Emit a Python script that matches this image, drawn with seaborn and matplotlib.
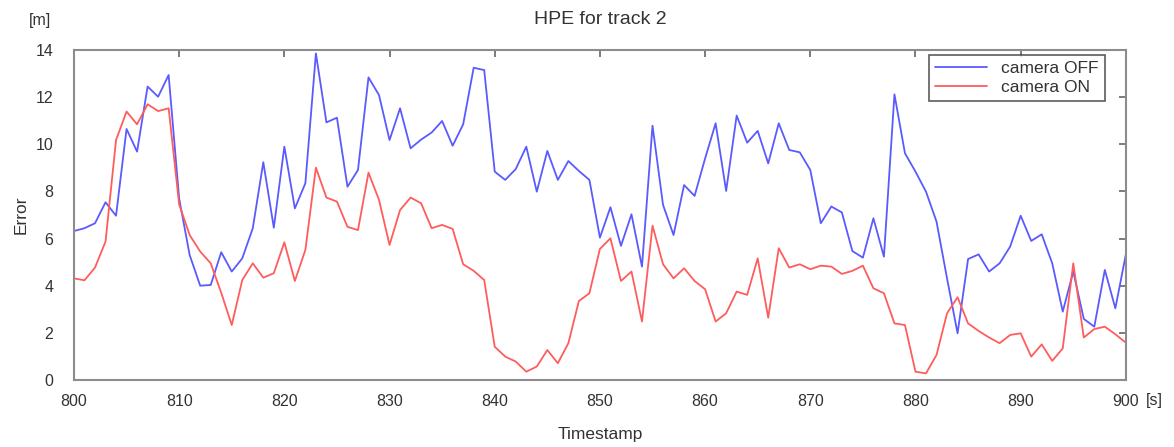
import numpy as np
import pandas as pd
import matplotlib
matplotlib.use("Agg")
import matplotlib.pyplot as plt
import seaborn as sns

# Horizontal position error per second, track 2
timestamps = list(range(800, 901))

camera_off = [
    6.32, 6.44, 6.65, 7.54, 6.97, 10.65, 9.69, 12.45, 12.02, 12.94,
    7.70, 5.30, 4.00, 4.03, 5.42, 4.60, 5.16, 6.44, 9.24, 6.46,
    9.90, 7.28, 8.35, 13.86, 10.93, 11.13, 8.20, 8.91, 12.84, 12.09,
    10.18, 11.53, 9.83, 10.20, 10.50, 10.99, 9.94, 10.85, 13.25, 13.15,
    8.84, 8.49, 8.95, 9.90, 7.99, 9.72, 8.49, 9.29, 8.87, 8.49,
    6.04, 7.33, 5.69, 7.03, 4.81, 10.79, 7.43, 6.15, 8.27, 7.81,
    9.40, 10.89, 8.02, 11.22, 10.07, 10.57, 9.19, 10.89, 9.76, 9.66,
    8.91, 6.65, 7.36, 7.11, 5.47, 5.19, 6.86, 5.23, 12.12, 9.62,
    8.84, 7.99, 6.72, 4.31, 1.98, 5.13, 5.33, 4.60, 4.95, 5.66,
    6.97, 5.90, 6.18, 4.95, 2.90, 4.60, 2.59, 2.26, 4.67, 3.04,
    5.33,
]

camera_on = [
    4.31, 4.23, 4.77, 5.87, 10.18, 11.39, 10.85, 11.70, 11.41, 11.53,
    7.45, 6.15, 5.45, 4.95, 3.70, 2.33, 4.24, 4.95, 4.34, 4.53,
    5.84, 4.20, 5.52, 9.01, 7.74, 7.57, 6.50, 6.36, 8.80, 7.64,
    5.73, 7.21, 7.74, 7.50, 6.44, 6.58, 6.41, 4.91, 4.63, 4.24,
    1.41, 0.99, 0.78, 0.35, 0.57, 1.27, 0.71, 1.56, 3.35, 3.68,
    5.56, 6.01, 4.20, 4.60, 2.48, 6.55, 4.91, 4.31, 4.74, 4.20,
    3.85, 2.48, 2.83, 3.75, 3.61, 5.16, 2.64, 5.59, 4.77, 4.91,
    4.70, 4.85, 4.81, 4.50, 4.63, 4.85, 3.89, 3.68, 2.40, 2.33,
    0.35, 0.28, 1.06, 2.83, 3.51, 2.40, 2.08, 1.80, 1.56, 1.91,
    1.98, 0.99, 1.51, 0.81, 1.34, 4.95, 1.80, 2.16, 2.26, 1.94,
    1.58,
]

series_names = ["camera OFF", "camera ON"]
series_colors = ["#5a5aff", "#ff5c5c"]

x_ticks = list(range(800, 901, 10))
y_ticks = list(range(0, 15, 2))

df = pd.DataFrame({
    "Timestamp": timestamps * 2,
    "Error": camera_off + camera_on,
    "mode": [series_names[0]] * len(timestamps) + [series_names[1]] * len(timestamps),
})

sns.set_style("white")
plt.rcParams["font.family"] = ["Liberation Sans", "DejaVu Sans"]

text_color = "#333333"
frame_color = "#8c8c8c"

fig = plt.figure(figsize=(11.74, 4.47), dpi=100)
ax = fig.add_axes([0.063, 0.150, 0.896, 0.738])

sns.lineplot(
    data=df, x="Timestamp", y="Error", hue="mode",
    palette=dict(zip(series_names, series_colors)),
    linewidth=1.3, ax=ax, legend=False,
)

ax.set_xlim(800, 900)
ax.set_ylim(0, 14)
ax.set_xticks(x_ticks)
ax.set_yticks(y_ticks)
ax.set_xticklabels([str(t) for t in x_ticks])
ax.set_yticklabels([str(t) for t in y_ticks])

for side in ax.spines.values():
    side.set_color(frame_color)
    side.set_linewidth(1.5)

ax.tick_params(axis="both", direction="in", length=5, width=1.2,
               color="#666666", labelsize=11.5, labelcolor=text_color,
               top=True, right=True)
ax.tick_params(axis="x", pad=10)
ax.tick_params(axis="y", pad=15)

ax.set_xlabel("Timestamp", fontsize=12.5, color=text_color, labelpad=13)
ax.set_ylabel("Error", fontsize=12.5, color=text_color, labelpad=5)
ax.set_title("HPE for track 2", fontsize=14, color=text_color, pad=19)

# unit annotations next to the axes
fig.text(40 / 1174, 1 - 20 / 447, "[m]", fontsize=11.5,
         color=text_color, ha="center", va="center")
fig.text(1146 / 1174, 1 - 401 / 447, "[s]", fontsize=11.5,
         color=text_color, ha="left", va="center")

handles = [plt.Line2D([], [], color=c, linewidth=1.3) for c in series_colors]
leg = ax.legend(handles, series_names, loc="upper right",
                bbox_to_anchor=(0.980, 0.985), borderaxespad=0.0,
                fontsize=12.5, frameon=True,
                fancybox=False, edgecolor="#333333", handlelength=3.0,
                labelspacing=0.2, borderpad=0.35, handletextpad=0.8)
leg.get_frame().set_linewidth(1.2)
for t in leg.get_texts():
    t.set_color(text_color)

fig.savefig("out.png", dpi=100, facecolor="white")
